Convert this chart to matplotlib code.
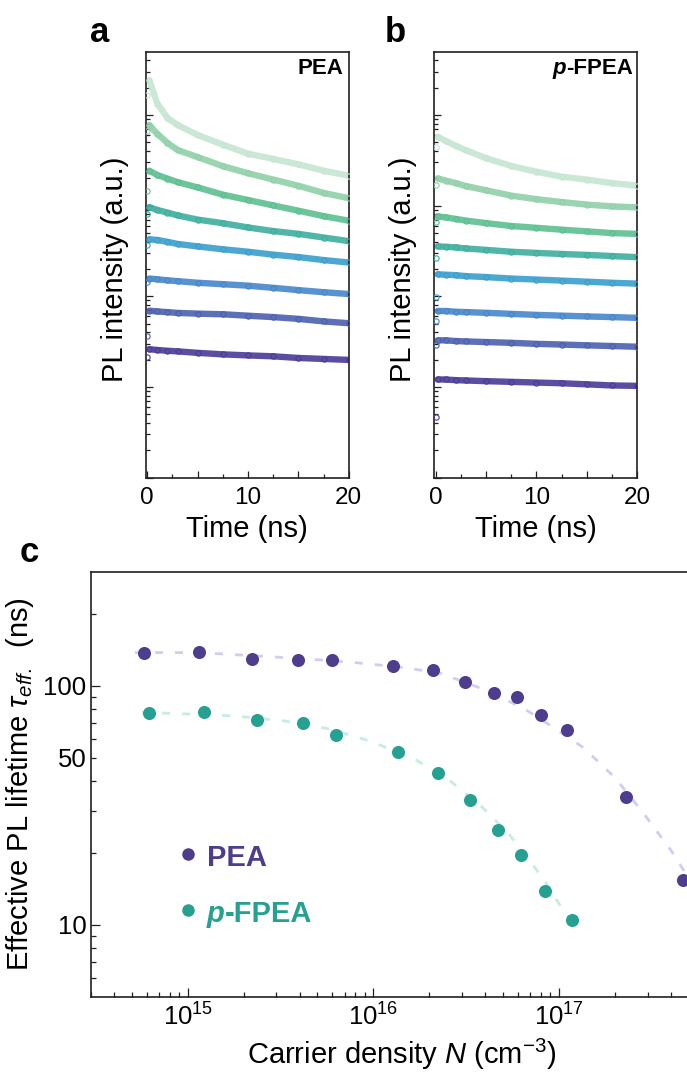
import numpy as np
import matplotlib
matplotlib.use("Agg")
import matplotlib.pyplot as plt
from matplotlib.ticker import LogLocator, NullFormatter, FixedLocator, FuncFormatter

plt.rcParams['font.family'] = ['Liberation Sans', 'DejaVu Sans']
plt.rcParams['mathtext.fontset'] = 'custom'
plt.rcParams['mathtext.rm'] = 'Liberation Sans'
plt.rcParams['mathtext.it'] = 'Liberation Sans:italic'
plt.rcParams['mathtext.bf'] = 'Liberation Sans:bold'

# ---------------- data: PL decays (a.u.) ----------------
time_ns = [0, 0.2, 1, 2, 3, 5, 7.5, 10, 12.5, 15, 17.5, 20]

pea_1 = [16750, 23990, 13335, 9268, 7745, 5998, 4699, 3741, 3273, 2851, 2427, 2138]
pea_2 = [6577, 7745, 6166, 4920, 4102, 3428, 2723, 2275, 1936, 1656, 1380, 1208]
pea_3 = [1445, 2427, 2173, 1986, 1816, 1585, 1321, 1153, 1005, 879, 766, 682]
pea_4 = [817, 962, 895, 839, 780, 701, 640, 574, 524, 488, 445, 406]
pea_5 = [368, 425, 418, 399, 378, 355, 330, 310, 288, 271, 251, 236]
pea_6 = [143, 157, 154, 150, 147, 141, 136, 131, 124, 117, 111, 106]
pea_7 = [36.8, 69.4, 68.1, 66.9, 65.6, 64.4, 63.4, 61.1, 59.0, 56.4, 52.9, 50.5]
pea_8 = [21.4, 26.1, 25.6, 25.1, 24.7, 23.8, 22.9, 22.3, 21.8, 20.9, 20.4, 19.9]

fpea_1 = [4385, 5754, 5152, 4581, 4074, 3342, 2735, 2366, 2084, 1936, 1770, 1660]
fpea_2 = [1691, 1991, 1888, 1770, 1644, 1475, 1288, 1178, 1094, 1026, 980, 955]
fpea_3 = [653, 760, 741, 713, 684, 641, 596, 569, 543, 520, 498, 488]
fpea_4 = [264, 355, 352, 346, 337, 325, 310, 301, 293, 286, 278, 270]
fpea_5 = [97.2, 175, 173, 171, 167, 163, 157, 153, 149, 145, 141, 138]
fpea_6 = [54, 68.9, 68.9, 67.6, 67.0, 65.8, 64.0, 62.4, 61.2, 60.0, 59.0, 57.9]
fpea_7 = [29.4, 32.7, 32.7, 32.1, 31.8, 31.3, 30.7, 29.9, 29.4, 28.8, 28.3, 27.8]
fpea_8 = [4.66, 12.1, 12.1, 11.9, 11.8, 11.6, 11.4, 11.2, 11.0, 10.7, 10.4, 10.3]

pea_traces = [pea_1, pea_2, pea_3, pea_4, pea_5, pea_6, pea_7, pea_8]
fpea_traces = [fpea_1, fpea_2, fpea_3, fpea_4, fpea_5, fpea_6, fpea_7, fpea_8]

trace_colors = ['#c6e6d3', '#8fd0a9', '#5dbf90', '#3cae9f',
                '#3a9fcc', '#4686cb', '#4a5fb0', '#4a3a97']

# ---------------- data: effective lifetime ----------------
N_pea = [5.8e14, 1.155e15, 2.22e15, 3.94e15, 5.98e15, 1.28e16, 2.09e16,
         3.13e16, 4.45e16, 5.94e16, 8.05e16, 1.11e17, 2.31e17, 4.68e17]
tau_pea = [137, 138, 129, 128, 127.7, 120.8, 116.7, 104, 93.5, 89.7, 75.4,
           65.1, 34.2, 15.4]
N_fpea = [6.18e14, 1.23e15, 2.36e15, 4.19e15, 6.32e15, 1.35e16, 2.22e16,
          3.30e16, 4.70e16, 6.27e16, 8.45e16, 1.18e17]
tau_fpea = [76.9, 77.6, 71.7, 69.7, 62.4, 53, 43.2, 33.2, 24.9, 19.6, 13.9, 10.5]

fitN_pea = [5.2e14, 1.165e15, 2.17e15, 4.03e15, 7.49e15, 1.39e16, 2.29e16,
            3.76e16, 6.41e16, 8.42e16, 1.33e17, 1.63e17, 2.01e17, 2.84e17,
            3.42e17, 4.06e17, 4.67e17, 5.41e17]
fitT_pea = [137.6, 137.6, 133.7, 130, 125.6, 119.7, 113, 97.8, 80.7, 70.5,
            55.6, 48.1, 41.1, 29.4, 24.2, 20.2, 17.0, 14.0]
fitN_fpea = [5.68e14, 1.44e15, 1.94e15, 3.34e15, 5.84e15, 9.85e15, 1.70e16,
             2.59e16, 3.85e16, 5.32e16, 7.35e16, 8.63e16, 1.01e17, 1.15e17]
fitT_fpea = [77.4, 75.4, 74.3, 71.2, 65.9, 58.3, 48.9, 40.0, 31.1, 24.2,
             17.5, 14.7, 12.1, 10.5]

x_major_c = [1e15, 1e16, 1e17]
y_major_c = [10, 100]
y_minor_c = [6, 7, 8, 9, 20, 30, 40, 50, 60, 70, 80, 90, 200]

c_pea = '#4d3d8c'
c_fpea = '#26a091'
c_fit_pea = '#d2cdee'
c_fit_fpea = '#c6ede3'
ink = '#231f20'

W, H = 687, 1072
fig = plt.figure(figsize=(W / 100, H / 100), dpi=100)


def px_axes(x0, y0, x1, y1):
    return fig.add_axes([x0 / W, 1 - y1 / H, (x1 - x0) / W, (y1 - y0) / H])


def style_spines(ax, lw=1.2):
    for s in ax.spines.values():
        s.set_color(ink)
        s.set_linewidth(lw)


def setup_decay(ax):
    ax.set_yscale('log')
    ax.set_ylim(1, 10 ** 4.697)
    ax.set_xlim(-0.13, 20)
    ax.yaxis.set_major_locator(LogLocator(base=10, numticks=10))
    ax.yaxis.set_minor_locator(LogLocator(base=10, subs=np.arange(2, 10), numticks=40))
    ax.yaxis.set_major_formatter(NullFormatter())
    ax.yaxis.set_minor_formatter(NullFormatter())
    ax.set_xticks([0, 5, 10, 15, 20])
    ax.set_xticklabels(['0', '', '10', '', '20'])
    ax.set_xticks([2.5, 7.5, 12.5, 17.5], minor=True)
    ax.tick_params(which='both', direction='in', top=False, right=False,
                   color=ink, width=0.9, labelsize=17.5, pad=7)
    ax.tick_params(which='major', length=5)
    ax.tick_params(which='minor', length=2.7)
    style_spines(ax)
    ax.set_xlabel('Time (ns)', fontsize=21)
    ax.xaxis.set_label_coords(0.5, -0.088)
    ax.set_ylabel('PL intensity (a.u.)', fontsize=21)


def draw_traces(ax, traces):
    for tr, col in zip(traces, trace_colors):
        ax.plot(time_ns[1:], tr[1:], '-', color=col, lw=4.6, alpha=0.9,
                solid_capstyle='round', zorder=2)
        ax.plot(time_ns, tr, 'o', mfc='none', mec=col, ms=3.8, mew=0.8, zorder=3)


# ---------------- panel a ----------------
ax_a = px_axes(146, 51.7, 348.7, 477.7)
setup_decay(ax_a)
draw_traces(ax_a, pea_traces)
ax_a.yaxis.set_label_coords(-0.082, 0.49)
ax_a.text(0.972, 0.985, 'PEA', transform=ax_a.transAxes, ha='right', va='top',
          fontsize=16, fontweight='bold', color='black')

# ---------------- panel b ----------------
ax_b = px_axes(434.3, 51.7, 637.3, 477.7)
setup_decay(ax_b)
draw_traces(ax_b, fpea_traces)
ax_b.yaxis.set_label_coords(-0.087, 0.49)
tb = ax_b.text(0.98, 0.985, '-FPEA', transform=ax_b.transAxes, ha='right',
               va='top', fontsize=16, fontweight='bold', color='black')
ax_b.annotate('p', xy=(0, 0), xycoords=tb, ha='right', va='bottom',
              fontsize=16, fontweight='bold', fontstyle='italic', color='black')

# ---------------- panel c ----------------
ax_c = px_axes(90.7, 571.7, 744.6, 996.7)
ax_c.set_xscale('log')
ax_c.set_yscale('log')
ax_c.set_xlim(3e14, 1e18)
ax_c.set_ylim(5, 300)

l1, = ax_c.plot(fitN_pea, fitT_pea, '--', color=c_fit_pea, lw=2.0, zorder=1)
l1.set_dashes((2.9, 4.3))
l2, = ax_c.plot(fitN_fpea, fitT_fpea, '--', color=c_fit_fpea, lw=2.0, zorder=1)
l2.set_dashes((2.9, 4.3))
ax_c.plot(N_pea, tau_pea, 'o', color=c_pea, ms=9.4, mew=0, zorder=3, clip_on=False)
ax_c.plot(N_fpea, tau_fpea, 'o', color=c_fpea, ms=9.4, mew=0, zorder=3)

ax_c.xaxis.set_major_locator(FixedLocator(x_major_c))
ax_c.xaxis.set_minor_locator(LogLocator(base=10, subs=np.arange(2, 10), numticks=40))
ax_c.xaxis.set_minor_formatter(NullFormatter())
ax_c.yaxis.set_major_locator(FixedLocator(y_major_c))
ax_c.yaxis.set_major_formatter(FuncFormatter(lambda v, p: '%d' % v))
ax_c.yaxis.set_minor_locator(FixedLocator(y_minor_c))
ax_c.yaxis.set_minor_formatter(FuncFormatter(lambda v, p: '50' if abs(v - 50) < 1e-6 else ''))
ax_c.tick_params(which='both', direction='in', top=False, right=False,
                 color=ink, width=0.9, labelsize=18.5)
ax_c.tick_params(which='major', length=6.5)
ax_c.tick_params(which='minor', length=3.6)
ax_c.tick_params(axis='y', which='both', pad=3)
ax_c.tick_params(axis='x', which='both', pad=5)
style_spines(ax_c)
ax_c.set_ylabel(r'Effective PL lifetime $\tau_{\mathit{eff.}}$  (ns)', fontsize=21)
ax_c.yaxis.set_label_coords(-0.083, 0.5)
ax_c.set_xlabel(r'Carrier density $N$ (cm$^{\mathrm{-3}}$)', fontsize=21)
ax_c.xaxis.set_label_coords(0.4756, -0.095)

# legend (manual)
leg_x_marker = 0.1483
leg_x_text = 0.1774
ax_c.plot([leg_x_marker], [0.3358], 'o', color=c_pea, ms=9, mew=0,
          transform=ax_c.transAxes)
ax_c.plot([leg_x_marker], [0.204], 'o', color=c_fpea, ms=9, mew=0,
          transform=ax_c.transAxes)
ax_c.text(leg_x_text, 0.3075, 'PEA', transform=ax_c.transAxes, ha='left',
          va='baseline', fontsize=21, fontweight='bold', color=c_pea)
tp = ax_c.text(leg_x_text, 0.1765, 'p', transform=ax_c.transAxes, ha='left',
               va='baseline', fontsize=21, fontweight='bold', fontstyle='italic',
               color=c_fpea)
ax_c.annotate('-FPEA', xy=(1, 0), xycoords=tp, ha='left', va='bottom',
              fontsize=21, fontweight='bold', color=c_fpea)

# panel letters
fig.text(90 / W, 1 - 42 / H, 'a', fontsize=25, fontweight='bold', va='baseline')
fig.text(385 / W, 1 - 42 / H, 'b', fontsize=25, fontweight='bold', va='baseline')
fig.text(20 / W, 1 - 561.7 / H, 'c', fontsize=25, fontweight='bold', va='baseline')

fig.savefig('out.png', dpi=100)
